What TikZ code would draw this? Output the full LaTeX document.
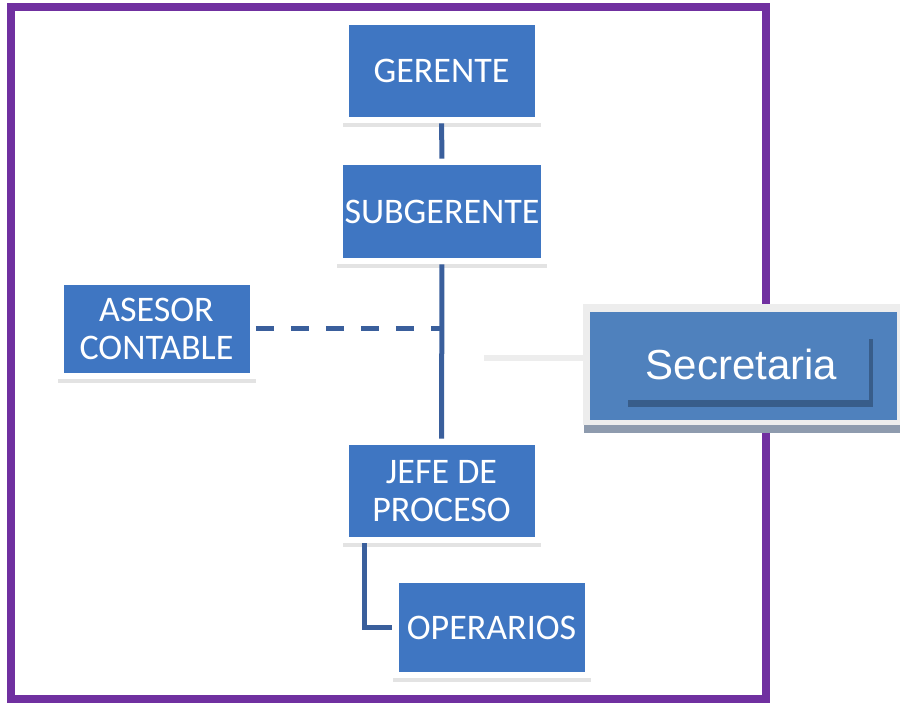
\documentclass[tikz,border=0pt]{standalone}
\usepackage{fontspec}
\setmainfont{Carlito}
\newfontfamily\secfont{Liberation Sans}
\usetikzlibrary{shadows}
\definecolor{marco}{HTML}{7030A0}
\definecolor{cajaazul}{HTML}{3F76C2}
\definecolor{linea}{HTML}{3A5F9C}
\definecolor{secazul}{HTML}{4F81BD}
\definecolor{secoscuro}{HTML}{385D8A}
\definecolor{secborde}{HTML}{EDEDED}
\definecolor{secsombra}{HTML}{8E9BAE}
\tikzset{
  cargo/.style={rectangle, inner sep=0pt, fill=white, text=white,
    minimum width=99pt, minimum height=52pt, align=center,
    font=\fontsize{18}{19}\selectfont,
    drop shadow={opacity=0.22, shadow xshift=0.2pt, shadow yshift=-1.8pt},
    path picture={\fill[cajaazul] ([shift={(3pt,3pt)}]path picture bounding box.south west)
      rectangle ([shift={(-3pt,-3pt)}]path picture bounding box.north east);}},
  enlace/.style={draw=linea, line width=2.5pt},
}
\begin{document}
\begin{tikzpicture}[x=0.5pt,y=-0.5pt]
\useasboundingbox (0,0) rectangle (900,704);
\draw[marco, line width=4pt] (11,7) rectangle (765.5,699.5);

\node[cargo] (ger) at (441.5,71) {GERENTE};
\node[cargo, minimum width=105pt, minimum height=52.5pt] (sub) at (442,211.5) {SUBGERENTE};
\node[cargo, minimum height=50pt] (ase) at (156.5,329) {ASESOR\\CONTABLE};
\node[cargo] (jefe) at (441.5,491) {JEFE DE\\PROCESO};
\node[cargo, minimum height=50.5pt] (oper) at (491.5,627.5) {OPERARIOS};

\draw[enlace] (ger) -- (sub);
\draw[enlace] (sub) -- (jefe);
\draw[enlace, dash pattern=on 9pt off 8.5pt] (ase.east) -- (ase.east -| sub.south);
\draw[enlace] ([xshift=11pt]jefe.south west) |- (oper.west);

% secretaria
\fill[secsombra] (584,425) rectangle (900,433);
\node[rectangle, inner sep=0pt, fill=secborde, minimum width=158.5pt, minimum height=60.5pt,
  text=white, font=\secfont\fontsize{21}{24}\selectfont,
  path picture={\fill[secazul] ([shift={(3.5pt,2.5pt)}]path picture bounding box.south west)
    rectangle ([shift={(-1.5pt,-4pt)}]path picture bounding box.north east);}]
  (sec) at (741.5,364.5) {Secretaria};
\fill[secoscuro] (628,400) rectangle (873,407);
\fill[secoscuro] (869,339) rectangle (873,407);
\coordinate (secini) at (484,358);
\draw[secborde, line width=3pt] (secini) -- (secini -| sec.west);
\end{tikzpicture}
\end{document}
